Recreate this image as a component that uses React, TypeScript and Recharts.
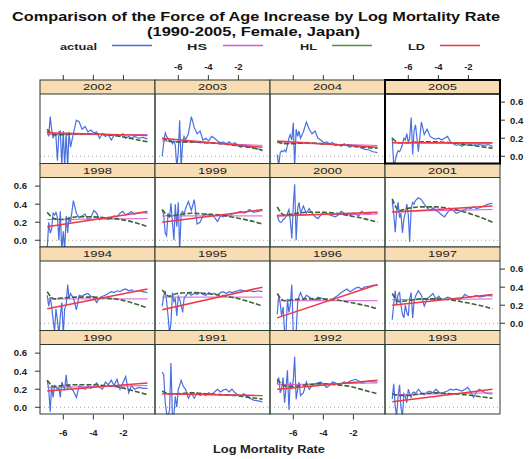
import { LineChart, Line, XAxis, YAxis, ReferenceLine } from "recharts";

// lattice order: top row first, left to right
const years = [2002, 2003, 2004, 2005, 1998, 1999, 2000, 2001, 1994, 1995, 1996, 1997, 1990, 1991, 1992, 1993];

// x positions (log mortality rate) where the observed curve was read
const logRate = [
  -7.07, -6.97, -6.87, -6.78, -6.68, -6.58, -6.49, -6.39, -6.29, -6.2, -6.1, -6.0, -5.91, -5.81,
  -5.71, -5.62, -5.52, -5.33, -5.13, -4.94, -4.75, -4.55, -4.36, -4.17, -3.97, -3.78, -3.59, -3.39,
  -3.2, -3.01, -2.81, -2.62, -2.43, -2.23, -2.04, -1.85, -1.65, -1.46, -1.27, -0.98, -0.69, -0.4,
];
const curveRate = [-7.07, -6.6, -6.1, -5.1, -4.2, -3.2, -2.2, -1.3, -0.4];
const lineRate = [-7.07, -0.4];

const xTicks = [-6, -4, -2];
const yTicks = [0, 0.2, 0.4, 0.6];

const actual = [
  [0.28, 0.22, 0.44, 0.3, 0.2, 0.25, 0.22, -0.05, 0.27, 0.28, -0.1, 0.28, -0.12, 0.26, -0.12, 0.27, 0.1, 0.25, 0.4, 0.38, 0.3, 0.33, 0.27, 0.29, 0.26, 0.27, 0.2, 0.25, 0.22, 0.24, 0.18, 0.23, 0.24, 0.22, 0.25, 0.2, 0.22, 0.2, 0.22, 0.2, 0.21, 0.19],
  [0.0, 0.15, 0.26, 0.22, 0.2, 0.16, 0.18, 0.14, 0.17, 0.12, -0.12, 0.05, 0.4, -0.12, 0.15, 0.22, 0.18, 0.25, 0.44, 0.32, 0.25, 0.28, 0.18, 0.2, 0.17, 0.22, 0.2, 0.17, 0.15, 0.16, 0.14, 0.16, 0.13, 0.15, 0.12, 0.1, 0.12, 0.1, 0.11, 0.09, 0.08, 0.06],
  [0.02, -0.1, 0.04, 0.06, 0.05, 0.07, 0.05, 0.12, 0.2, 0.24, 0.18, 0.37, -0.12, 0.3, 0.22, 0.28, 0.2, 0.27, 0.38, 0.3, 0.25, 0.28, 0.2, 0.18, 0.15, 0.16, 0.14, 0.15, 0.12, 0.13, 0.11, 0.14, 0.12, 0.1, 0.12, 0.1, 0.11, 0.09, 0.08, 0.07, 0.05, 0.04],
  [0.21, -0.1, -0.05, 0.02, 0.06, 0.05, 0.08, 0.13, 0.2, 0.18, 0.25, 0.15, 0.2, 0.43, 0.02, 0.28, 0.35, 0.05, 0.38, 0.24, 0.3, 0.22, 0.2, 0.19, 0.2, 0.18, 0.2, 0.22, 0.16, 0.14, 0.12, 0.13, 0.11, 0.13, 0.12, 0.13, 0.12, 0.14, 0.13, 0.12, 0.13, 0.11],
  [-0.1, 0.2, 0.08, 0.12, 0.3, 0.28, 0.31, 0.25, 0.0, 0.32, -0.12, 0.1, -0.12, 0.27, 0.08, 0.26, 0.2, 0.44, 0.3, 0.25, 0.27, 0.29, 0.23, 0.25, 0.33, 0.3, 0.23, 0.25, 0.24, 0.23, 0.25, 0.27, 0.26, 0.3, 0.32, 0.28, 0.3, 0.32, 0.29, 0.3, 0.31, 0.3],
  [0.34, 0.28, 0.08, 0.05, 0.3, 0.25, 0.41, 0.2, 0.0, 0.4, 0.15, 0.42, -0.12, 0.3, 0.32, 0.28, 0.35, 0.43, 0.33, 0.45, 0.18, 0.2, 0.27, 0.29, 0.28, 0.29, 0.25, 0.21, 0.27, 0.26, 0.28, 0.27, 0.29, 0.3, 0.31, 0.32, 0.3, 0.31, 0.34, 0.31, 0.32, 0.33],
  [0.28, 0.22, 0.2, 0.2, 0.23, 0.24, 0.26, 0.3, 0.34, 0.22, 0.02, 0.38, 0.62, 0.0, 0.35, 0.42, 0.3, 0.38, 0.3, 0.35, 0.3, 0.26, 0.24, 0.28, 0.31, 0.3, 0.28, 0.27, 0.26, 0.28, 0.32, 0.3, 0.29, 0.28, 0.3, 0.29, 0.27, 0.32, 0.3, 0.29, 0.31, 0.3],
  [0.44, 0.3, 0.09, 0.3, 0.42, 0.25, 0.3, 0.08, 0.24, 0.3, 0.4, 0.28, -0.02, 0.35, 0.42, 0.4, 0.44, 0.47, 0.45, 0.4, 0.36, 0.33, 0.36, 0.33, 0.31, 0.28, 0.26, 0.31, 0.34, 0.33, 0.3, 0.31, 0.33, 0.34, 0.36, 0.35, 0.37, 0.35, 0.36, 0.38, 0.4, 0.41],
  [0.31, 0.19, 0.29, 0.2, 0.04, -0.09, 0.16, 0.03, -0.12, 0.08, 0.23, -0.12, 0.16, 0.2, 0.43, 0.27, 0.33, 0.28, 0.15, 0.31, 0.3, 0.32, 0.33, 0.3, 0.29, 0.23, 0.28, 0.3, 0.31, 0.33, 0.35, 0.34, 0.36, 0.35, 0.37, 0.38, 0.36, 0.37, 0.35, 0.36, 0.35, 0.34],
  [0.19, 0.3, 0.36, 0.25, 0.08, -0.12, 0.0, 0.34, 0.24, 0.27, 0.08, 0.3, 0.27, 0.2, 0.12, 0.27, 0.3, 0.34, 0.31, 0.33, 0.32, 0.34, 0.32, 0.31, 0.34, 0.32, 0.33, 0.31, 0.34, 0.35, 0.33, 0.35, 0.34, 0.35, 0.36, 0.37, 0.36, 0.35, 0.36, 0.35, 0.36, 0.35],
  [0.1, 0.3, 0.22, 0.08, 0.18, -0.1, -0.12, 0.27, 0.12, 0.2, 0.43, -0.12, -0.12, -0.1, 0.23, 0.3, 0.34, 0.26, 0.31, 0.29, 0.27, 0.26, 0.29, 0.28, 0.27, 0.26, 0.25, 0.27, 0.29, 0.31, 0.34, 0.36, 0.38, 0.35, 0.37, 0.39, 0.4, 0.38, 0.4, 0.41, 0.42, 0.42],
  [0.04, 0.21, 0.36, 0.2, 0.32, 0.34, 0.2, 0.1, 0.06, 0.2, 0.12, 0.08, 0.27, 0.34, 0.06, 0.23, 0.3, 0.36, 0.31, 0.19, 0.27, 0.3, 0.33, 0.27, 0.3, 0.26, 0.27, 0.29, 0.28, 0.25, 0.27, 0.26, 0.28, 0.32, 0.3, 0.29, 0.3, 0.31, 0.29, 0.3, 0.31, 0.3],
  [0.3, 0.2, -0.05, 0.24, 0.11, 0.24, 0.22, 0.2, 0.21, 0.11, 0.28, 0.23, 0.2, 0.36, 0.2, 0.24, 0.22, 0.18, 0.11, 0.24, 0.22, 0.2, 0.24, 0.21, 0.24, 0.27, 0.22, 0.2, 0.28, 0.25, 0.3, 0.24, 0.31, 0.2, 0.27, 0.34, 0.16, 0.24, 0.2, 0.22, 0.21, 0.21],
  [0.39, 0.36, 0.05, -0.06, -0.1, -0.03, 0.49, -0.1, -0.08, 0.12, 0.0, 0.2, 0.24, 0.3, 0.25, 0.22, 0.2, 0.1, 0.16, 0.1, 0.16, 0.13, 0.15, 0.13, 0.16, 0.14, 0.17, 0.2, 0.17, 0.19, 0.2, 0.17, 0.2, 0.16, 0.14, 0.12, 0.15, 0.13, 0.1, 0.08, 0.07, 0.06],
  [0.26, 0.33, 0.16, 0.2, 0.33, 0.05, 0.2, 0.41, -0.03, 0.28, 0.2, 0.3, 0.56, 0.09, 0.2, 0.28, 0.13, 0.16, 0.28, 0.2, 0.24, 0.26, 0.27, 0.28, 0.25, 0.22, 0.24, 0.28, 0.27, 0.25, 0.26, 0.28, 0.27, 0.29, 0.3, 0.31, 0.29, 0.27, 0.28, 0.29, 0.28, 0.28],
  [0.09, 0.26, 0.01, -0.1, 0.12, 0.25, 0.0, -0.1, 0.15, 0.12, 0.05, 0.2, 0.15, 0.11, 0.16, 0.17, 0.15, 0.2, 0.16, 0.14, 0.17, 0.18, 0.16, 0.2, 0.17, 0.15, 0.17, 0.18, 0.2, 0.19, 0.2, 0.19, 0.18, 0.2, 0.22, 0.17, 0.11, 0.17, 0.2, 0.17, 0.15, 0.15],
];

// fitted curves: HS and LD are straight lines (end values), HL is curved
const hsFit = [
  [0.24, 0.24], [0.17, 0.12], [0.15, 0.12], [0.15, 0.14],
  [0.23, 0.24], [0.27, 0.27], [0.28, 0.29], [0.32, 0.34],
  [0.27, 0.27], [0.29, 0.29], [0.25, 0.25], [0.26, 0.27],
  [0.22, 0.24], [0.15, 0.13], [0.25, 0.27], [0.14, 0.16],
];
const ldFit = [
  [0.26, 0.23], [0.2, 0.1], [0.17, 0.1], [0.15, 0.15],
  [0.15, 0.32], [0.2, 0.34], [0.27, 0.31], [0.31, 0.38],
  [0.16, 0.38], [0.15, 0.4], [0.06, 0.43], [0.2, 0.32],
  [0.18, 0.27], [0.15, 0.13], [0.2, 0.3], [0.06, 0.2],
];
const hlFit = [
  [0.3, 0.24, 0.24, 0.25, 0.25, 0.24, 0.22, 0.19, 0.16],
  [0.2, 0.17, 0.16, 0.16, 0.15, 0.14, 0.12, 0.1, 0.07],
  [0.16, 0.14, 0.14, 0.15, 0.14, 0.13, 0.12, 0.1, 0.09],
  [0.2, 0.15, 0.15, 0.16, 0.16, 0.15, 0.13, 0.11, 0.09],
  [0.31, 0.24, 0.23, 0.26, 0.26, 0.25, 0.23, 0.2, 0.15],
  [0.34, 0.27, 0.28, 0.3, 0.29, 0.28, 0.25, 0.22, 0.18],
  [0.37, 0.28, 0.29, 0.31, 0.31, 0.3, 0.27, 0.24, 0.2],
  [0.46, 0.33, 0.35, 0.37, 0.37, 0.35, 0.31, 0.26, 0.2],
  [0.35, 0.27, 0.28, 0.29, 0.29, 0.28, 0.26, 0.22, 0.17],
  [0.37, 0.3, 0.33, 0.34, 0.33, 0.31, 0.28, 0.24, 0.19],
  [0.33, 0.25, 0.26, 0.27, 0.27, 0.26, 0.23, 0.2, 0.16],
  [0.33, 0.24, 0.25, 0.27, 0.27, 0.26, 0.23, 0.2, 0.16],
  [0.3, 0.23, 0.24, 0.25, 0.25, 0.24, 0.22, 0.18, 0.14],
  [0.18, 0.15, 0.15, 0.16, 0.15, 0.14, 0.13, 0.11, 0.09],
  [0.31, 0.24, 0.23, 0.25, 0.26, 0.25, 0.23, 0.19, 0.15],
  [0.15, 0.13, 0.13, 0.15, 0.16, 0.15, 0.14, 0.12, 0.1],
];

const legendNames = ["actual", "HS", "HL", "LD"];

const FONT = '"Liberation Sans", Arial, Helvetica, sans-serif';
const C_ACTUAL = "#4a6fe0";
const C_HS = "#d35ad3";
const C_HL = "#3a6532";
const C_HL_KEY = "#4f8f3c";
const C_LD = "#ec3a45";
const STRIP_BG = "#f7dcb4";
const FRAME = "#2d3b30";

const X_DOMAIN: [number, number] = [-7.55, 0.1];
const Y_DOMAIN: [number, number] = [-0.08, 0.69];

const GRID_LEFT = 40;
const PW = 115;
const ROW_TOP = 80;
const ROW_H = 83.5;
const STRIP_H = 14;
const PH = ROW_H - STRIP_H;

const AX_T = 40;
const AX_B = 28;
const AX_L = 36;
const AX_R = 36;

const tickFont = { fontSize: 9.5, fontWeight: 700, fill: "#222", fontFamily: FONT };
const tickStroke = { stroke: "#333" };

const pts = (xs: number[], ys: number[]) => xs.map((x, k) => ({ x, y: ys[k] }));

function TopTick(props: any) {
  const { x, payload, showLabel } = props;
  const base = AX_T - STRIP_H;
  return (
    <g>
      <line x1={x} x2={x} y1={base} y2={base - 5} stroke="#333" />
      {showLabel && (
        <text x={x} y={base - 10} textAnchor="middle" {...tickFont}>
          {payload.value}
        </text>
      )}
    </g>
  );
}

function Panel({ i }: { i: number }) {
  const row = Math.floor(i / 4);
  const col = i % 4;
  const left = GRID_LEFT + col * PW - AX_L;
  const top = ROW_TOP + row * ROW_H + STRIP_H - AX_T;
  const showTop = row === 0;
  const showBottom = row === 3;
  const showLeft = col === 0;
  const showRight = col === 3;
  const fmt = (v: number) => v.toFixed(1);

  return (
    <div style={{ position: "absolute", left, top }}>
      <LineChart width={AX_L + PW + AX_R} height={AX_T + PH + AX_B} margin={{ top: 0, right: 0, bottom: 0, left: 0 }}>
        <XAxis
          xAxisId="b"
          orientation="bottom"
          type="number"
          dataKey="x"
          domain={X_DOMAIN}
          allowDataOverflow
          ticks={xTicks}
          height={AX_B}
          axisLine={false}
          tickSize={5}
          tickMargin={10}
          tickLine={showBottom ? tickStroke : false}
          tick={showBottom && col % 2 === 0 ? tickFont : false}
        />
        <XAxis
          xAxisId="t"
          orientation="top"
          type="number"
          dataKey="x"
          domain={X_DOMAIN}
          allowDataOverflow
          ticks={xTicks}
          height={AX_T}
          axisLine={false}
          tickLine={false}
          tick={showTop ? (p: any) => <TopTick {...p} showLabel={col % 2 === 1} /> : false}
        />
        <YAxis
          yAxisId="l"
          orientation="left"
          type="number"
          domain={Y_DOMAIN}
          allowDataOverflow
          ticks={yTicks}
          width={AX_L}
          axisLine={false}
          tickSize={5}
          tickMargin={8}
          tickFormatter={fmt}
          tickLine={showLeft ? tickStroke : false}
          tick={showLeft && row % 2 === 1 ? tickFont : false}
        />
        <YAxis
          yAxisId="r"
          orientation="right"
          type="number"
          domain={Y_DOMAIN}
          allowDataOverflow
          ticks={yTicks}
          width={AX_R}
          axisLine={false}
          tickSize={5}
          tickMargin={5}
          tickFormatter={fmt}
          tickLine={showRight ? tickStroke : false}
          tick={showRight && row % 2 === 0 ? tickFont : false}
        />
        <ReferenceLine xAxisId="b" yAxisId="l" y={0} stroke="#a0a0a0" strokeDasharray="1 3" />
        <Line
          xAxisId="b"
          yAxisId="l"
          data={pts(logRate, actual[i])}
          dataKey="y"
          type="linear"
          stroke={C_ACTUAL}
          strokeWidth={1.2}
          dot={false}
          isAnimationActive={false}
        />
        <Line
          xAxisId="b"
          yAxisId="l"
          data={pts(lineRate, hsFit[i])}
          dataKey="y"
          type="linear"
          stroke={C_HS}
          strokeWidth={1}
          dot={false}
          isAnimationActive={false}
        />
        <Line
          xAxisId="b"
          yAxisId="l"
          data={pts(curveRate, hlFit[i])}
          dataKey="y"
          type="monotone"
          stroke={C_HL}
          strokeWidth={1.6}
          strokeDasharray="5 2"
          dot={false}
          isAnimationActive={false}
        />
        <Line
          xAxisId="b"
          yAxisId="l"
          data={pts(lineRate, ldFit[i])}
          dataKey="y"
          type="linear"
          stroke={C_LD}
          strokeWidth={1.5}
          dot={false}
          isAnimationActive={false}
        />
      </LineChart>
    </div>
  );
}

function Frames() {
  // 2005 is highlighted with a heavier frame, draw it last
  const order = years.map((_, i) => i).sort((a, b) => (years[a] === 2005 ? 1 : 0) - (years[b] === 2005 ? 1 : 0));
  return (
    <>
      {order.map((i) => {
        const yr = years[i];
        const row = Math.floor(i / 4);
        const col = i % 4;
        const x = GRID_LEFT + col * PW;
        const y = ROW_TOP + row * ROW_H;
        const hi = yr === 2005;
        return (
          <g key={yr}>
            <rect x={x} y={y} width={PW} height={STRIP_H} fill={STRIP_BG} />
            <text
              x={x + PW / 2}
              y={y + STRIP_H / 2 + 3.4}
              textAnchor="middle"
              fontSize={9.5}
              fill="#222"
              textLength={29}
              lengthAdjust="spacingAndGlyphs"
            >
              {yr}
            </text>
            <line x1={x} x2={x + PW} y1={y + STRIP_H} y2={y + STRIP_H} stroke={hi ? "#000" : FRAME} strokeWidth={hi ? 1.5 : 1} />
            <rect x={x} y={y} width={PW} height={ROW_H} fill="none" stroke={hi ? "#000" : FRAME} strokeWidth={hi ? 2 : 1} />
          </g>
        );
      })}
    </>
  );
}

function Legend() {
  const colors = [C_ACTUAL, C_HS, C_HL_KEY, C_LD];
  const textX = [60, 187, 300, 408];
  const textW = [37, 20, 17, 17];
  const lineX = [112, 223, 332, 440];
  return (
    <>
      {legendNames.map((name, k) => (
        <g key={name}>
          <text
            x={textX[k]}
            y={50}
            fontSize={9.5}
            fontWeight={700}
            fill="#222"
            textLength={textW[k]}
            lengthAdjust="spacingAndGlyphs"
          >
            {name}
          </text>
          <line x1={lineX[k]} x2={lineX[k] + 40} y1={45.5} y2={45.5} stroke={colors[k]} strokeWidth={1.3} />
        </g>
      ))}
    </>
  );
}

export default function App() {
  return (
    <div
      style={{
        position: "absolute",
        left: 0,
        top: 0,
        width: 532,
        height: 459,
        overflow: "hidden",
        background: "#fff",
        fontFamily: FONT,
      }}
    >
      {years.map((yr, i) => (
        <Panel key={yr} i={i} />
      ))}
      <svg width={532} height={459} style={{ position: "absolute", left: 0, top: 0, pointerEvents: "none" }}>
        <g fontFamily={FONT}>
          <text x={256} y={21} textAnchor="middle" fontSize={12.5} fontWeight={700} fill="#111" textLength={488} lengthAdjust="spacingAndGlyphs">
            Comparison of the Force of Age Increase by Log Mortality Rate
          </text>
          <text x={253.5} y={35.5} textAnchor="middle" fontSize={12.5} fontWeight={700} fill="#111" textLength={213} lengthAdjust="spacingAndGlyphs">
            (1990-2005, Female, Japan)
          </text>
          <Legend />
          <Frames />
          <text x={269} y={453} textAnchor="middle" fontSize={11} fontWeight={700} fill="#222" textLength={112} lengthAdjust="spacingAndGlyphs">
            Log Mortality Rate
          </text>
        </g>
      </svg>
    </div>
  );
}
